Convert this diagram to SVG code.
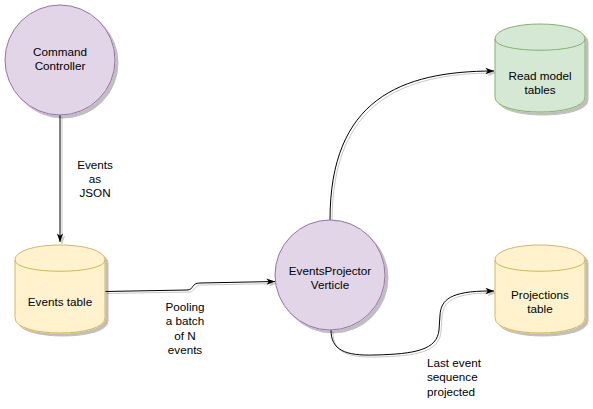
<svg xmlns="http://www.w3.org/2000/svg" width="593" height="409" viewBox="0 0 593 409">
<style>
text{font-family:"Liberation Sans",Arial,sans-serif;font-size:11.7px;fill:#000;text-anchor:middle}
.purple{fill:#e1d5e7;stroke:#9673a6;stroke-width:1}
.yellow{fill:#fff2cc;stroke:#d6b656;stroke-width:1}
.green{fill:#d5e8d4;stroke:#82b366;stroke-width:1}
.edge{fill:none;stroke:#000;stroke-width:1;marker-end:url(#arr)}
.sh{filter:url(#shadow)}
.esh{filter:url(#eshadow)}
.lbl{text-anchor:start}
</style>
<defs>
<filter id="shadow" filterUnits="userSpaceOnUse" x="0" y="0" width="593" height="409">
<feDropShadow dx="3" dy="3" stdDeviation="0.6" flood-color="#000" flood-opacity="0.25"/>
</filter>
<filter id="eshadow" filterUnits="userSpaceOnUse" x="0" y="0" width="593" height="409">
<feDropShadow dx="2" dy="2" stdDeviation="0.4" flood-color="#000" flood-opacity="0.22"/>
</filter>
<marker id="arr" viewBox="0 0 10 8" refX="9.5" refY="4" markerWidth="9" markerHeight="7.2" orient="auto" markerUnits="userSpaceOnUse">
<path d="M0,0.5 L9.5,4 L0,7.5 L2.5,4 Z" fill="#000"/>
</marker>
</defs>
<g id="connectors">
<path class="edge esh" d="M60,115 L60,242"/>
<path class="edge esh" d="M105,291.5 L187,290 C194,290 191,283 200,283 L275,281.5"/>
<path class="edge esh" d="M330,220 C330,100 400,71 494,71"/>
<path class="edge esh" d="M331,330 C331,350 345,356 375,355 C415,354 437,350 439,330 L440,315 C441,300 450,291 490,291 L494,291"/>
<text x="95" y="169">Events</text>
<text x="95" y="183">as</text>
<text x="95" y="197">JSON</text>
<text x="185" y="311">Pooling</text>
<text x="185" y="325">a batch</text>
<text x="185" y="340">of N</text>
<text x="185" y="354">events</text>
<text class="lbl" x="427" y="367">Last event</text>
<text class="lbl" x="427" y="381">sequence</text>
<text class="lbl" x="427" y="396">projected</text>
</g>
<g id="command-controller">
<circle class="purple sh" cx="60" cy="60" r="55"/>
<text x="60" y="56">Command</text>
<text x="60" y="70">Controller</text>
</g>
<g id="events-table">
<path class="yellow sh" d="M15,260 C15,240 105,240 105,260 L105,318 C105,338 15,338 15,318 Z"/>
<path class="yellow" d="M15,260 C15,275 105,275 105,260" style="fill:none"/>
<text x="60" y="306">Events table</text>
</g>
<g id="events-projector">
<circle class="purple sh" cx="330" cy="275" r="55"/>
<text x="330" y="275">EventsProjector</text>
<text x="330" y="289">Verticle</text>
</g>
<g id="read-model">
<path class="green sh" d="M495,39 C495,19 585,19 585,39 L585,97 C585,117 495,117 495,97 Z"/>
<path class="green" d="M495,39 C495,54 585,54 585,39" style="fill:none"/>
<text x="540" y="80">Read model</text>
<text x="540" y="94">tables</text>
</g>
<g id="projections-table">
<path class="yellow sh" d="M495,260 C495,240 585,240 585,260 L585,318 C585,338 495,338 495,318 Z"/>
<path class="yellow" d="M495,260 C495,275 585,275 585,260" style="fill:none"/>
<text x="540" y="299">Projections</text>
<text x="540" y="313">table</text>
</g>
</svg>
